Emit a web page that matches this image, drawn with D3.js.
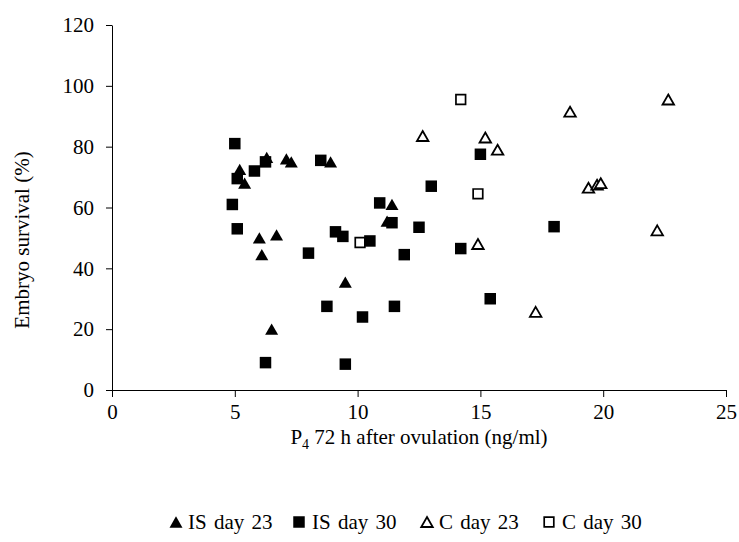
<!DOCTYPE html>
<html>
<head>
<meta charset="utf-8">
<script src="https://cdn.jsdelivr.net/npm/d3@7"></script>
<style>
    body { margin: 0; background: #fff; }
</style>
</head>
<body>
<div id="container"></div>
<script>
// P4 72 h after ovulation (ng/ml) vs embryo survival (%), one pair of arrays per group
const isDay23P4   = [5.2, 5.4, 6.0, 6.1, 6.3, 6.5, 6.7, 7.1, 7.3, 8.9, 9.5, 11.2, 11.4];
const isDay23Surv = [72.5, 68, 50, 44.5, 76.5, 20, 51, 76, 75, 75, 35.5, 55.5, 61];

const isDay30P4   = [4.9, 5.0, 5.1, 5.1, 5.8, 6.25, 6.25, 8.0, 8.5, 8.75, 9.1, 9.4, 9.5,
                     10.2, 10.5, 10.9, 11.4, 11.5, 11.9, 12.5, 13.0, 14.2, 15.0, 15.4, 18.0];
const isDay30Surv = [61, 81, 69.5, 53, 72, 75, 9, 45, 75.5, 27.5, 52, 50.5, 8.5,
                     24, 49, 61.5, 55, 27.5, 44.5, 53.5, 67, 46.5, 77.5, 30, 53.7];

const cDay23P4   = [12.65, 14.9, 15.2, 15.7, 17.25, 18.65, 19.4, 19.75, 19.9, 22.2, 22.65];
const cDay23Surv = [83.5, 48, 83, 79, 25.7, 91.5, 66.5, 67.5, 68, 52.5, 95.5];

const cDay30P4   = [10.1, 14.2, 14.9];
const cDay30Surv = [48.5, 95.5, 64.5];

const seriesNames = ["IS day 23", "IS day 30", "C day 23", "C day 30"];
const xTicks = [0, 5, 10, 15, 20, 25];
const yTicks = [0, 20, 40, 60, 80, 100, 120];

const width = 739;
const height = 542;
const marginLeft = 112;
const marginRight = 13;
const marginTop = 25;
const axisY = 390;
const FONT = '"Liberation Serif", "DejaVu Serif", serif';

// marker shapes, centered on the bounding box
function markerPath(shape, s) {
    if (shape === "triangle") {
        const h = s * 0.866;
        return `M0,${-h / 2}L${s / 2},${h / 2}L${-s / 2},${h / 2}Z`;
    }
    return `M${-s / 2},${-s / 2}h${s}v${s}h${-s}Z`;
}

const seriesDefs = [
    { name: seriesNames[0], xs: isDay23P4, ys: isDay23Surv, shape: "triangle", size: 13,  fill: "#000", stroke: "none", sw: 0 },
    { name: seriesNames[1], xs: isDay30P4, ys: isDay30Surv, shape: "square",   size: 11.5, fill: "#000", stroke: "none", sw: 0 },
    { name: seriesNames[2], xs: cDay23P4,  ys: cDay23Surv,  shape: "triangle", size: 11.5, fill: "#fff", stroke: "#000", sw: 1.8 },
    { name: seriesNames[3], xs: cDay30P4,  ys: cDay30Surv,  shape: "square",   size: 9.6, fill: "#fff", stroke: "#000", sw: 1.7 }
];

const x = d3.scaleLinear()
    .domain([0, 25])
    .range([marginLeft, width - marginRight]);

const y = d3.scaleLinear()
    .domain([0, 120])
    .range([axisY, marginTop]);

const svg = d3.create("svg")
    .attr("width", width)
    .attr("height", height)
    .style("display", "block");

// X axis
svg.append("g")
    .attr("transform", `translate(0,${axisY})`)
    .call(d3.axisBottom(x).tickValues(xTicks).tickSize(7).tickSizeOuter(0).tickPadding(7))
    .attr("font-family", FONT)
    .attr("font-size", 21)
    .attr("color", "#000");

// Y axis
svg.append("g")
    .attr("transform", `translate(${marginLeft},0)`)
    .call(d3.axisLeft(y).tickValues(yTicks).tickSize(6).tickSizeOuter(0).tickPadding(12))
    .attr("font-family", FONT)
    .attr("font-size", 21)
    .attr("color", "#000");

// axis titles
const xTitle = svg.append("text")
    .attr("x", (marginLeft + width - marginRight) / 2)
    .attr("y", 444)
    .attr("text-anchor", "middle")
    .attr("font-family", FONT)
    .attr("font-size", 21);
xTitle.append("tspan").text("P");
xTitle.append("tspan").attr("font-size", 14).attr("dy", 5).text("4");
xTitle.append("tspan").attr("dy", -5).text(" 72 h after ovulation (ng/ml)");

svg.append("text")
    .attr("transform", "translate(29,240) rotate(-90)")
    .attr("text-anchor", "middle")
    .attr("font-family", FONT)
    .attr("font-size", 21)
    .text("Embryo survival (%)");

// points
seriesDefs.forEach(s => {
    svg.append("g")
        .selectAll("path")
        .data(s.xs.map((v, i) => [v, s.ys[i]]))
        .join("path")
            .attr("transform", d => `translate(${x(d[0])},${y(d[1])})`)
            .attr("d", markerPath(s.shape, s.size))
            .attr("fill", s.fill)
            .attr("stroke", s.stroke)
            .attr("stroke-width", s.sw);
});

// legend
const legendSymbolX = [176, 299, 427, 549];
const legendY = 522;
const legend = svg.append("g");
seriesDefs.forEach((s, i) => {
    legend.append("path")
        .attr("transform", `translate(${legendSymbolX[i]},${legendY})`)
        .attr("d", markerPath(s.shape, s.size))
        .attr("fill", s.fill)
        .attr("stroke", s.stroke)
        .attr("stroke-width", s.sw);
    legend.append("text")
        .attr("x", legendSymbolX[i] + (s.shape === "square" ? 13 : 12))
        .attr("y", 529)
        .attr("font-family", FONT)
        .attr("font-size", 21)
        .attr("word-spacing", 2)
        .text(s.name);
});

container.append(svg.node());
</script>
</body>
</html>
